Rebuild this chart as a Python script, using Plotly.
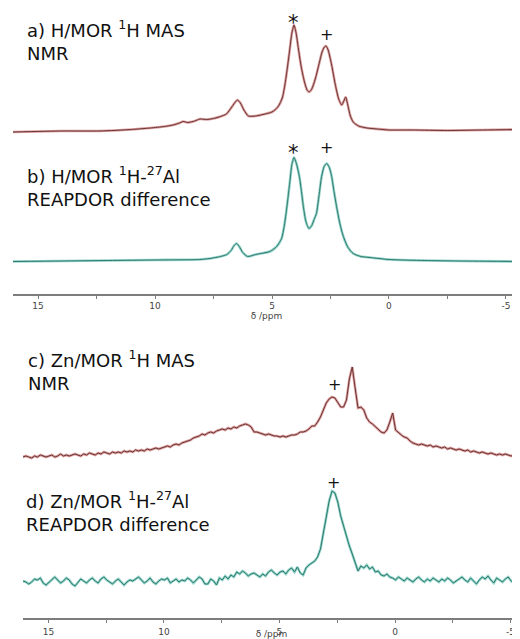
import numpy as np
import plotly.graph_objects as go

# ---------------- data (chemical shift in ppm, intensity in a.u.) ----------------
a_ppm = [16.07, 14.0, 12.35, 11.0, 10.2, 9.6, 9.23, 8.95, 8.8, 8.6, 8.3, 8.08, 7.8, 7.5,
         7.2, 6.95, 6.75, 6.6, 6.48, 6.35, 6.2, 6.01, 5.7, 5.3, 5.0, 4.75, 4.56, 4.45,
         4.35, 4.25, 4.15, 4.06, 3.97, 3.87, 3.75, 3.6, 3.5, 3.41, 3.3, 3.15, 3.0, 2.86,
         2.76, 2.69, 2.6, 2.45, 2.3, 2.15, 2.02, 1.93, 1.85, 1.77, 1.65, 1.53, 1.3, 0.94,
         0.5, 0.0, -1.0, -2.5, -4.0, -5.6]
a_int = [-1, 0, 0, 1.5, 3, 4.5, 6, 8, 9.5, 8.5, 10, 12, 11.5, 12.5,
         14.5, 17, 23, 28, 31, 28, 21, 15, 15, 17, 19, 24, 33, 46,
         62, 80, 98, 106, 98, 82, 64, 48, 41, 39, 42, 52, 66, 79,
         84, 85, 81, 66, 47, 32, 26, 30, 34, 27, 15, 9, 5, 3,
         2, 1, 1, 0.5, 1, 1.5]

b_ppm = [16.07, 14.0, 12.0, 10.0, 8.08, 7.65, 7.2, 6.93, 6.75, 6.62, 6.51, 6.4, 6.25, 6.04,
         5.7, 5.09, 4.8, 4.59, 4.48, 4.4, 4.32, 4.23, 4.15, 4.06, 3.97, 3.83, 3.74, 3.66,
         3.55, 3.42, 3.3, 3.2, 3.1, 2.99, 2.88, 2.77, 2.66, 2.55, 2.45, 2.35, 2.24, 2.1,
         1.95, 1.75, 1.53, 1.2, 0.81, 0.0, -1.5, -3.0, -5.6]
b_int = [0, 0.5, 1, 1.5, 2, 3, 5, 7, 11, 16, 18, 15, 9, 5,
         7, 10, 15, 23, 35, 48, 63, 81, 97, 104, 99, 85, 70, 55,
         40, 33, 36, 42, 48, 66, 85, 95, 98, 94, 85, 70, 55, 38,
         25, 14, 8, 5, 4, 2, 1, 0.5, 0]

# spectra c and d: sampled every 0.125 ppm from 16.1 to -5.4 ppm
cd_start, cd_stop = 16.1, -5.4
c_int = [0, 1, 0, -1, 1, 0, 2, 1,
         0, 1, 2, 0, 1, 3, 1, 2,
         1, 2, 3, 2, 1, 3, 2, 4,
         3, 2, 4, 3, 5, 4, 3, 5,
         4, 5, 4, 6, 5, 6, 5, 7,
         6, 7, 6, 8, 7, 8, 9, 8,
         9, 10, 11, 10, 12, 13, 12, 14,
         15, 16, 17, 19, 20, 21, 23, 22,
         24, 25, 24, 26, 27, 28, 27, 29,
         28, 30, 29, 31, 32, 33, 32, 30,
         25, 25, 24, 23, 22, 23, 22, 21,
         21, 20, 21, 20, 21, 22, 22, 23,
         25, 25, 26, 28, 31, 31, 35, 40,
         47, 54, 58, 60, 59, 55, 50, 50,
         57, 78, 90, 69, 49, 50, 47, 39,
         35, 33, 30, 28, 25, 24, 27, 35,
         44, 27, 24, 22, 20, 19, 16, 14,
         13, 12, 13, 12, 11, 12, 10, 11,
         10, 9, 10, 8, 9, 8, 7, 8,
         7, 6, 7, 5, 6, 5, 4, 5,
         4, 3, 4, 3, 2, 3, 2, 3,
         2, 1, 2, 2, 2]
d_int = [0, -1, -3, -1, 2, 1, 3, -2,
         -4, -1, 2, 4, 1, -2, 0, 3,
         1, -3, -5, -1, 2, 0, -2, 1,
         3, 0, -2, 2, 4, 1, -1, -3,
         0, 2, -1, -4, -1, 1, 0, 2,
         4, 1, -2, 0, 3, -1, -3, 0,
         2, 1, 3, -2, 0, 2, -1, 1,
         0, 3, 1, -2, 1, 4, 2, -3,
         -3, 2, 0, -4, 3, 1, 5, 2,
         6, 4, 9, 7, 10, 8, 5, 7,
         8, 6, 4, 7, 5, 9, 11, 8,
         6, 9, 10, 7, 11, 13, 9, 14,
         8, 6, 13, 16, 18, 20, 24, 32,
         48, 66, 80, 90, 88, 79, 65, 55,
         44, 35, 27, 19, 10, 15, 13, 16,
         12, 14, 9, 10, 6, 5, 7, 4,
         3, 1, 4, 2, 0, 3, 1, -1,
         2, 4, 1, -1, 2, 0, 3, 1,
         -1, 2, 0, 3, 1, -2, 0, 2,
         4, 1, -1, 3, 0, -3, 1, 4,
         2, 5, 1, -2, 3, 1, -1, 2,
         4, 0, -2, 1, 2]
c_ppm = np.linspace(cd_start, cd_stop, len(c_int))
d_ppm = np.linspace(cd_start, cd_stop, len(d_int))

labels = {
    "a": "a) H/MOR <sup>1</sup>H MAS<br>NMR",
    "b": "b) H/MOR <sup>1</sup>H-<sup>27</sup>Al<br>REAPDOR difference",
    "c": "c) Zn/MOR <sup>1</sup>H MAS<br>NMR",
    "d": "d) Zn/MOR <sup>1</sup>H-<sup>27</sup>Al<br>REAPDOR difference",
}
# peak markers: (spectrum, ppm, symbol)
peak_marks = [("a", 4.06, "*"), ("a", 2.69, "+"), ("b", 4.06, "*"), ("b", 2.66, "+"),
              ("c", 2.62, "+"), ("d", 2.68, "+")]
major_ticks = [15, 10, 5, 0, -5]
major_text = ["15", "10", "5", "0", "-5"]
minor_ticks = [12.5, 7.5, 2.5, -2.5]
axis_title = "δ /ppm"

# ---------------- styling / layout ----------------
PAGE_MARGIN = 8            # default <body> margin of the html page
W, H = 520 - PAGE_MARGIN, 639 - PAGE_MARGIN
RED_LIGHT, RED_DARK = "#dca0a0", "#6a3434"
TEAL_LIGHT, TEAL_DARK = "#93d3c8", "#2f7a70"
FONT = "DejaVu Sans"
AXIS_COL = "#7d7d7d"

def P(v):  # window pixel -> figure pixel
    return v - PAGE_MARGIN

# panel geometry in figure pixels: (top of plot area, axis line)
TOP_PANEL = (0, P(294))
BOT_PANEL = (P(300), P(617.7))

spectra = {
    "a": dict(x=a_ppm, y=a_int, xa="x", ya="y", cols=(RED_LIGHT, RED_DARK), base=P(131.0),
              panel=TOP_PANEL, label_x=P(25), label_y=P(40.7)),
    "b": dict(x=b_ppm, y=b_int, xa="x", ya="y2", cols=(TEAL_LIGHT, TEAL_DARK), base=P(261.5),
              panel=TOP_PANEL, label_x=P(25), label_y=P(186.5)),
    "c": dict(x=c_ppm, y=c_int, xa="x2", ya="y3", cols=(RED_LIGHT, RED_DARK), base=P(457.0),
              panel=BOT_PANEL, label_x=P(26), label_y=P(370.8)),
    "d": dict(x=d_ppm, y=d_int, xa="x2", ya="y4", cols=(TEAL_LIGHT, TEAL_DARK), base=P(581.0),
              panel=BOT_PANEL, label_x=P(24), label_y=P(511.5)),
}
mark_font = {"*": 21, "+": 16}
mark_shift = {("a", "*"): 2, ("a", "+"): 12, ("b", "*"): 4.5, ("b", "+"): 16,
              ("c", "+"): 13, ("d", "+"): 9}

fig = go.Figure()
for key, s in spectra.items():
    smooth = key in ("a", "b")
    line_shape = "spline" if smooth else "linear"
    for col, wid in ((s["cols"][0], 2.6), (s["cols"][1], 1.0)):
        ln = dict(color=col, width=wid, shape=line_shape)
        if smooth:
            ln["smoothing"] = 0.6
        fig.add_trace(go.Scatter(x=s["x"], y=s["y"], xaxis=s["xa"], yaxis=s["ya"],
                                 mode="lines", line=ln, hoverinfo="skip", cliponaxis=False))

annotations = []
for key, s in spectra.items():
    annotations.append(dict(text=labels[key], xref="paper", yref="paper",
                            x=s["label_x"] / W, y=1 - s["label_y"] / H,
                            xanchor="left", yanchor="middle", align="left",
                            showarrow=False, font=dict(family=FONT, size=18, color="#111")))
for key, ppm, sym in peak_marks:
    s = spectra[key]
    xs = np.array(s["x"], dtype=float)[::-1]
    ys = np.array(s["y"], dtype=float)[::-1]
    h = float(np.interp(ppm, xs, ys))
    annotations.append(dict(text=sym, xref=s["xa"], yref=s["ya"], x=ppm, y=h,
                            xanchor="center", yanchor="middle", yshift=mark_shift[(key, sym)],
                            showarrow=False,
                            font=dict(family=FONT, size=mark_font[sym], color="#111")))

def xaxis_style(x0_px, x_range, anchor, label_off, title_off):
    return dict(domain=[x0_px / W, 1], range=x_range, anchor=anchor, automargin=False,
                showline=True, linecolor=AXIS_COL, linewidth=2, ticks="outside", ticklen=3,
                tickwidth=1, tickcolor=AXIS_COL, tickmode="array", tickvals=major_ticks,
                ticktext=major_text, tickfont=dict(family=FONT, size=9, color="#444"),
                ticklabelstandoff=label_off,
                minor=dict(tickmode="array", tickvals=minor_ticks, ticks="outside", ticklen=3,
                           tickwidth=1, tickcolor=AXIS_COL, showgrid=False),
                title=dict(text=axis_title, font=dict(family=FONT, size=9, color="#444"),
                           standoff=title_off),
                showgrid=False, zeroline=False, fixedrange=True)

def yaxis_style(s, anchor, overlay=None):
    top_px, bot_px = s["panel"]
    d = dict(domain=[1 - bot_px / H, 1 - top_px / H],
             range=[s["base"] - bot_px, s["base"] - top_px], anchor=anchor, visible=False,
             automargin=False, showgrid=False, zeroline=False, fixedrange=True)
    if overlay:
        d["overlaying"] = overlay
    return d

fig.update_layout(
    width=W, height=H, margin=dict(l=0, r=0, t=0, b=0, autoexpand=False),
    paper_bgcolor="white", plot_bgcolor="white", showlegend=False,
    xaxis=xaxis_style(P(13), [16.07, -5.60], "y", -1, 0),
    xaxis2=xaxis_style(P(23), [16.10, -5.41], "y3", 1, 8),
    yaxis=yaxis_style(spectra["a"], "x"),
    yaxis2=yaxis_style(spectra["b"], "x", "y"),
    yaxis3=yaxis_style(spectra["c"], "x2"),
    yaxis4=yaxis_style(spectra["d"], "x2", "y3"),
    annotations=annotations,
)

fig.write_html("out.html")
